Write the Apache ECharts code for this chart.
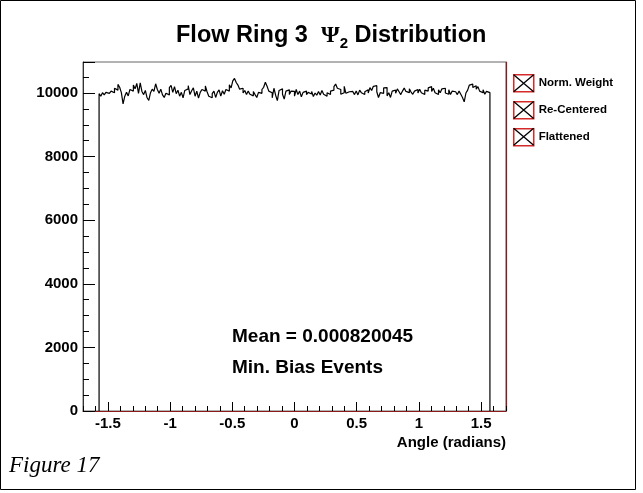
<!DOCTYPE html>
<html><head><meta charset="utf-8">
<script src="https://cdn.jsdelivr.net/npm/echarts@6/dist/echarts.min.js"></script>
<style>html,body{margin:0;padding:0;background:#fff}#c{width:643px;height:493px}</style>
</head><body><div id="c"></div>
<script>
// ---- data ----
const seriesNames = ['Norm. Weight', 'Re-Centered', 'Flattened'];
const xRange = [-1.7, 1.7];
const yRange = [0, 10975];
const binLow = -Math.PI / 2, binHigh = Math.PI / 2;
const normWeight = [
  9980, 9900, 10010, 9940, 10020, 9990, 9930, 10060, 10010, 10150,
  10090, 10270, 10180, 10010, 9660, 9900, 10020, 9910, 10110, 10060,
  10250, 10130, 10300, 9990, 10320, 10050, 9950, 10080, 9850, 9770,
  10010, 10120, 10050, 10290, 10110, 9990, 10120, 9940, 9860, 9990,
  9940, 10170, 10240, 10020, 10200, 9980, 10090, 9900, 10020, 9850,
  10080, 10130, 10230, 9950, 10070, 10160, 9900, 10060, 9840, 10020,
  10110, 10060, 10220, 10040, 9900, 9850, 9980, 10060, 9860, 10020,
  10100, 9900, 10070, 9960, 10110, 10060, 10260, 10160, 10380, 10460,
  10330, 10250, 10120, 10150, 10000, 10080, 9950, 10060, 9960, 9910,
  10050, 9950, 9860, 10020, 9990, 10110, 10180, 10340, 10210, 10060,
  10010, 9850, 10150, 9930, 9760, 10080, 10130, 9960, 9810, 10060,
  10100, 9950, 10060,
  10050, 9900, 10110, 9950, 10060, 9880, 10020, 10060, 9950, 10020,
  9970, 10050, 9890, 10000, 9930, 10050, 9940, 10080, 9960, 9900,
  10010, 9950, 10060, 10090, 10200, 10280, 10150, 10110, 9960, 10010,
  10210, 9990, 10040, 9980, 10050, 10090, 9950, 10060, 9940, 10090,
  10010, 9950, 10040, 10100, 10000, 10170, 10080, 10210, 10230, 10040,
  9860, 10010, 9990, 10160, 10170, 9910, 10010, 9860, 10060, 10090,
  9990, 10130, 10040, 9950, 10060, 10160, 10050, 10010, 10130, 10030,
  9960, 10060, 10110, 10000, 10120, 10010, 9950, 10090, 10060, 10160,
  10200, 10050, 10150, 10010, 9950, 10100, 10010, 10130, 10150, 10000,
  9960, 10100, 9950, 10060, 10040, 10010, 9950, 10060, 9960, 9860,
  9720, 10000, 10090, 10250, 10280, 10170, 10230, 10120, 10200, 10060,
  10010, 10100, 9960, 10050, 10010
];
const reCentered = [];
const flattened = [];
const meanText = 'Mean = 0.000820045';
const eventText = 'Min. Bias Events';
const figureText = 'Figure 17';

// ---- helpers ----
function histPoints(vals) {
  if (!vals.length) return [];
  const w = (binHigh - binLow) / vals.length;
  const pts = [[binLow, 0]];
  vals.forEach((v, i) => pts.push([binLow + i * w, v]));
  pts.push([binHigh, vals[vals.length - 1]]);
  pts.push([binHigh, 0]);
  return pts;
}
const SANS = 'Liberation Sans, Arial, sans-serif';
const SERIF = 'Liberation Serif, Times New Roman, serif';
const near = (a, b) => Math.abs(a - b) < 1e-6;

const G = { left: 83, top: 62, width: 423, height: 349 };
const frac = (xRange[1] - xRange[0]);
const g1left = G.left + G.width * ((-1.5 - xRange[0]) / frac);
const g1width = G.width * (3 / frac);

const chart = echarts.init(document.getElementById('c'), null, { renderer: 'canvas' });
const lbl = { color: '#000', fontFamily: SANS, fontWeight: 'bold', fontSize: 15 };

const option = {
  animation: false,
  backgroundColor: '#fff',
  title: {
    text: '{a|Flow Ring 3  }{p|Ψ}{s|2}{a| Distribution}',
    left: 176, top: 21, padding: 0,
    textStyle: {
      rich: {
        a: { fontFamily: SANS, fontWeight: 'bold', fontSize: 23.5, color: '#000', lineHeight: 30, verticalAlign: 'middle' },
        p: { fontFamily: SERIF, fontSize: 24, color: '#000', lineHeight: 30, verticalAlign: 'middle' },
        s: { fontFamily: SANS, fontWeight: 'bold', fontSize: 15, color: '#000', lineHeight: 15, verticalAlign: 'bottom' }
      }
    }
  },
  grid: [
    { left: G.left, top: G.top, width: G.width, height: G.height, show: true, borderColor: '#666', borderWidth: 1, backgroundColor: 'transparent' },
    { left: g1left, top: G.top, width: g1width, height: G.height, show: false }
  ],
  xAxis: [
    {
      type: 'value', gridIndex: 0, min: xRange[0], max: xRange[1], interval: 0.1,
      axisLine: { show: true, onZero: false, lineStyle: { color: '#8b1a1a', width: 1.2 } },
      axisTick: { show: true, inside: true, length: 5, lineStyle: { color: '#000' } },
      axisLabel: {
        ...lbl, margin: 5, showMinLabel: true, showMaxLabel: true,
        formatter: v => near(Math.round(v * 2), v * 2) ? String(Math.round(v * 2) / 2) : ''
      },
      splitLine: { show: false },
      name: 'Angle (radians)', nameLocation: 'end', nameGap: 0,
      nameTextStyle: { ...lbl, align: 'right', verticalAlign: 'top', padding: [24, 0, 0, 0] }
    },
    {
      type: 'value', gridIndex: 1, min: -1.5, max: 1.5, interval: 0.5,
      axisLine: { show: false, onZero: false },
      axisTick: { show: true, inside: true, length: 9, lineStyle: { color: '#000' } },
      axisLabel: { show: false }, splitLine: { show: false }
    }
  ],
  yAxis: [
    {
      type: 'value', gridIndex: 0, min: yRange[0], max: yRange[1], interval: 500,
      axisLine: { show: true, onZero: false, lineStyle: { color: '#333', width: 1 } },
      axisTick: { show: true, inside: true, length: 6, lineStyle: { color: '#000' } },
      axisLabel: { ...lbl, margin: 5, formatter: v => (near(v % 2000, 0) && v <= 10000) ? String(v) : '' },
      splitLine: { show: false }
    },
    {
      type: 'value', gridIndex: 0, position: 'left', min: yRange[0], max: yRange[1], interval: 2000,
      axisLine: { show: false, onZero: false },
      axisTick: { show: true, inside: true, length: 12, lineStyle: { color: '#000' } },
      axisLabel: { show: false }, splitLine: { show: false }
    },
    {
      type: 'value', gridIndex: 0, position: 'right', min: yRange[0], max: yRange[1],
      axisLine: { show: true, onZero: false, lineStyle: { color: '#8b1a1a', width: 1.2 } },
      axisTick: { show: false }, axisLabel: { show: false }, splitLine: { show: false }
    },
    { type: 'value', gridIndex: 1, show: false, min: yRange[0], max: yRange[1], splitLine: { show: false } }
  ],
  legend: [
    {
      data: seriesNames, orient: 'vertical', left: 513, top: 74, padding: 0, itemWidth: 20, itemHeight: 17, itemGap: 8.5,
      icon: 'rect', selectedMode: false,
      itemStyle: { color: '#fff', borderColor: '#d42a2a', borderWidth: 1.5 },
      textStyle: { color: 'rgba(0,0,0,0)', fontFamily: SANS, fontWeight: 'bold', fontSize: 11.5 }
    },
    {
      data: seriesNames, orient: 'vertical', left: 513, top: 74, padding: 0, itemWidth: 20, itemHeight: 17, itemGap: 8.5,
      icon: 'path://M0,0L20,17M20,0L0,17', selectedMode: false,
      itemStyle: { color: 'rgba(0,0,0,0)', borderColor: '#000', borderWidth: 1.3 },
      textStyle: { color: '#000', fontFamily: SANS, fontWeight: 'bold', fontSize: 11.5 }
    }
  ],
  series: [
    { name: seriesNames[0], type: 'line', xAxisIndex: 0, yAxisIndex: 0, data: histPoints(normWeight), step: 'end', showSymbol: false, symbol: 'none', lineStyle: { color: '#000', width: 1.2 }, itemStyle: { color: '#000' } },
    { name: seriesNames[1], type: 'line', xAxisIndex: 0, yAxisIndex: 0, data: histPoints(reCentered), step: 'end', showSymbol: false, symbol: 'none', lineStyle: { color: '#000', width: 1 }, itemStyle: { color: '#000' } },
    { name: seriesNames[2], type: 'line', xAxisIndex: 0, yAxisIndex: 0, data: histPoints(flattened), step: 'end', showSymbol: false, symbol: 'none', lineStyle: { color: '#000', width: 1 }, itemStyle: { color: '#000' } }
  ],
  graphic: [
    { type: 'rect', shape: { x: 0.5, y: 0.5, width: 635, height: 489 }, style: { fill: 'none', stroke: '#000', lineWidth: 1 }, silent: true, z: -1 },
    { type: 'text', left: 232, top: 327, style: { text: meanText, fill: '#000', font: 'bold 19px ' + SANS } },
    { type: 'text', left: 232, top: 358, style: { text: eventText, fill: '#000', font: 'bold 19px ' + SANS } },
    { type: 'text', left: 9, top: 454, style: { text: figureText, fill: '#000', font: 'italic 23px ' + SERIF } }
  ]
};
chart.setOption(option);
</script></body></html>
